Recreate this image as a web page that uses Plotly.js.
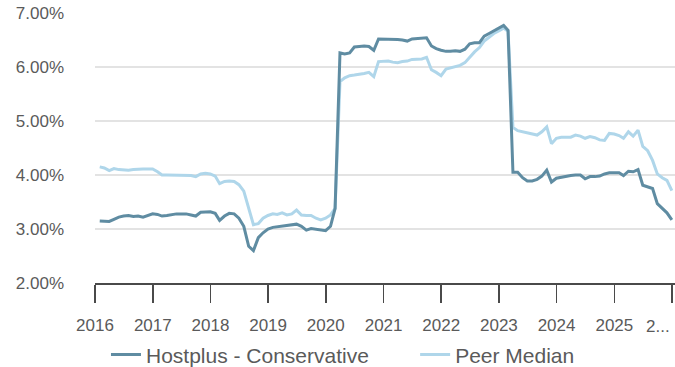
<!DOCTYPE html>
<html>
<head>
<meta charset="utf-8">
<script src="https://cdn.plot.ly/plotly-3.0.1.min.js"></script>
<style>
  html, body { margin: 0; padding: 0; background: #fff; }
  #chart { width: 675px; height: 367px; }
</style>
</head>
<body>
<div id="chart"></div>
<script>
// Monthly returns (% p.a.), month-end observations Jan 2016 – Dec 2025
const startYear = 2016;
const monthCount = 120;

const hostplusConservative = [
  // 2016
  3.15, 3.15, 3.14, 3.18, 3.22, 3.24, 3.25, 3.23, 3.24, 3.22, 3.25, 3.28,
  // 2017
  3.27, 3.24, 3.25, 3.27, 3.28, 3.28, 3.28, 3.26, 3.24, 3.31, 3.32, 3.32,
  // 2018
  3.29, 3.16, 3.24, 3.29, 3.28, 3.20, 3.05, 2.68, 2.60, 2.84, 2.93, 3.00,
  // 2019
  3.03, 3.04, 3.05, 3.06, 3.08, 3.09, 3.05, 2.98, 3.01, 3.00, 2.99, 2.97,
  // 2020
  3.05, 3.38, 6.26, 6.24, 6.26, 6.37, 6.38, 6.39, 6.38, 6.31, 6.52, 6.52,
  // 2021
  6.52, 6.51, 6.51, 6.50, 6.48, 6.52, 6.53, 6.53, 6.54, 6.39, 6.34, 6.31,
  // 2022
  6.29, 6.29, 6.30, 6.29, 6.33, 6.43, 6.45, 6.45, 6.57, 6.62, 6.67, 6.72,
  // 2023
  6.77, 6.68, 4.05, 4.05, 3.95, 3.89, 3.89, 3.92, 3.98, 4.09, 3.87, 3.94,
  // 2024
  3.96, 3.98, 3.99, 4.00, 4.00, 3.93, 3.97, 3.97, 3.98, 4.02, 4.04, 4.04,
  // 2025
  4.04, 3.99, 4.07, 4.06, 4.10, 3.81, 3.78, 3.75, 3.47, 3.39, 3.30, 3.17
];

const peerMedian = [
  // 2016
  4.15, 4.13, 4.08, 4.12, 4.10, 4.09, 4.09, 4.10, 4.11, 4.11, 4.11, 4.11,
  // 2017
  4.06, 4.00, 4.00, 4.00, 4.00, 4.00, 3.99, 3.99, 3.97, 4.02, 4.03, 4.02,
  // 2018
  3.98, 3.84, 3.88, 3.89, 3.88, 3.82, 3.70, 3.40, 3.08, 3.10, 3.20, 3.25,
  // 2019
  3.28, 3.27, 3.30, 3.26, 3.28, 3.35, 3.26, 3.25, 3.25, 3.20, 3.17, 3.20,
  // 2020
  3.26, 3.38, 5.73, 5.80, 5.84, 5.85, 5.86, 5.88, 5.90, 5.82, 6.10, 6.11,
  // 2021
  6.11, 6.09, 6.08, 6.10, 6.11, 6.14, 6.15, 6.15, 6.18, 5.95, 5.90, 5.84,
  // 2022
  5.96, 5.98, 6.00, 6.03, 6.08, 6.18, 6.28, 6.36, 6.48, 6.55, 6.62, 6.67,
  // 2023
  6.72, 6.66, 4.88, 4.82, 4.80, 4.79, 4.77, 4.74, 4.80, 4.89, 4.58, 4.68,
  // 2024
  4.70, 4.70, 4.70, 4.74, 4.72, 4.68, 4.71, 4.69, 4.65, 4.64, 4.77, 4.76,
  // 2025
  4.73, 4.68, 4.80, 4.72, 4.83, 4.53, 4.45, 4.27, 4.02, 3.95, 3.90, 3.71
];

const yearTicks = ['2016-01-01','2017-01-01','2018-01-01','2019-01-01','2020-01-01',
                   '2021-01-01','2022-01-01','2023-01-01','2024-01-01','2025-01-01','2026-01-01'];
// the last year label is truncated and set right-aligned against its tick
const yearLabels = ['2016','2017','2018','2019','2020','2021','2022','2023','2024','2025',''];
const lastYearLabel = '2...';
const yTicks = [2, 3, 4, 5, 6, 7];
const yLabels = ['2.00%','3.00%','4.00%','5.00%','6.00%','7.00%'];

// month-end dates for the x axis
function pad(n) { return (n < 10 ? '0' : '') + n; }
const monthEnds = [];
for (let i = 0; i < monthCount; i++) {
  const y = startYear + Math.floor(i / 12);
  const m = i % 12;
  const last = new Date(Date.UTC(y, m + 1, 0)).getUTCDate();
  monthEnds.push(y + '-' + pad(m + 1) + '-' + pad(last));
}

const FONT = 'Liberation Sans, Arial, Helvetica, sans-serif';
const TEXT = '#5a5a5a';

const traces = [
  {
    x: monthEnds, y: peerMedian, name: 'Peer Median',
    type: 'scatter', mode: 'lines',
    line: { color: '#afd6ea', width: 3 },
    legend: 'legend2', hoverinfo: 'skip'
  },
  {
    x: monthEnds, y: hostplusConservative, name: 'Hostplus - Conservative',
    type: 'scatter', mode: 'lines',
    line: { color: '#5f8ca2', width: 3 },
    legend: 'legend', hoverinfo: 'skip'
  }
];

const legendBase = {
  orientation: 'h',
  xref: 'container', yref: 'container',
  xanchor: 'left',
  y: 0.033, yanchor: 'middle',
  font: { family: FONT, size: 21, color: TEXT },
  bgcolor: 'rgba(0,0,0,0)'
};

const layout = {
  width: 675, height: 367,
  margin: { l: 95, r: 0, t: 13, b: 84, pad: 0 },
  paper_bgcolor: '#ffffff', plot_bgcolor: '#ffffff',
  font: { family: FONT, color: TEXT },
  showlegend: true,
  xaxis: {
    type: 'date',
    range: ['2016-01-01', '2026-01-20'],
    tickmode: 'array', tickvals: yearTicks, ticktext: yearLabels,
    ticks: 'outside', ticklen: 18, tickwidth: 1.6, tickcolor: '#4a4a4a',
    ticklabelstandoff: 8,
    showline: true, linecolor: '#4a4a4a', linewidth: 1.6,
    showgrid: false, zeroline: false,
    tickfont: { family: FONT, size: 17, color: TEXT },
    fixedrange: true
  },
  yaxis: {
    range: [2, 7],
    tickmode: 'array', tickvals: yTicks, ticktext: yLabels,
    showgrid: true, gridcolor: '#e3e3e3', gridwidth: 1.5,
    zeroline: false, showline: false, ticks: '',
    ticklabelstandoff: 30,
    tickfont: { family: FONT, size: 17, color: TEXT },
    fixedrange: true
  },
  annotations: [{
    text: lastYearLabel, showarrow: false,
    xref: 'x', x: yearTicks[yearTicks.length - 1],
    yref: 'paper', y: 0,
    xanchor: 'right', yanchor: 'middle',
    xshift: 0, yshift: -43,
    font: { family: FONT, size: 17, color: TEXT }
  }],
  legend: Object.assign({}, legendBase, { x: 0.157 }),
  legend2: Object.assign({}, legendBase, { x: 0.615 })
};

Plotly.newPlot('chart', traces, layout, { displayModeBar: false, staticPlot: true });
</script>
</body>
</html>
